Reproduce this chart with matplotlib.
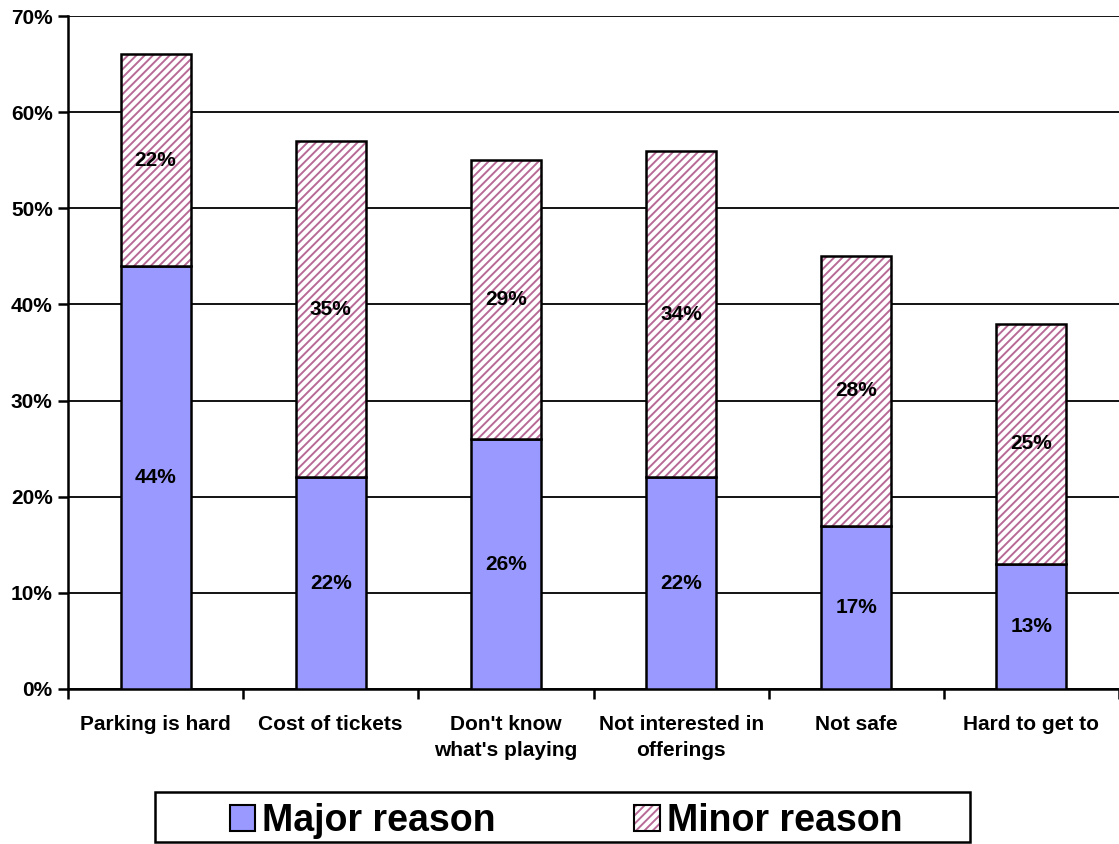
import matplotlib
matplotlib.use("Agg")
import matplotlib.pyplot as plt
from matplotlib.patches import Patch, Rectangle
from matplotlib.ticker import FuncFormatter, FixedLocator

plt.rcParams['font.family'] = ['Liberation Sans', 'DejaVu Sans']
plt.rcParams['font.weight'] = 'bold'
plt.rcParams['hatch.linewidth'] = 1.4

categories = ["Parking is hard", "Cost of tickets", "Don't know\nwhat's playing",
              "Not interested in\nofferings", "Not safe", "Hard to get to"]
major = [44, 22, 26, 22, 17, 13]
minor = [22, 35, 29, 34, 28, 25]

major_color = '#9999FF'
hatch_color = '#b86a96'

W, H = 1119, 844
fig = plt.figure(figsize=(W / 100, H / 100), dpi=100)
ax = fig.add_axes([68/W, 1 - 689/H, 1 - 68/W, (689 - 16)/H])

x = list(range(len(categories)))
w = 0.40

ax.bar(x, major, w, color=major_color, edgecolor='black', linewidth=1.8, zorder=3)
ax.bar(x, minor, w, bottom=major, color='white', edgecolor=hatch_color,
       hatch='////', linewidth=0, zorder=3)
ax.bar(x, minor, w, bottom=major, fill=False, edgecolor='black', linewidth=1.8, zorder=4)

for i in x:
    ax.text(i, major[i] / 2, f"{major[i]}%", ha='center', va='center',
            fontsize=15, fontweight='bold', zorder=5)
    ax.text(i, major[i] + minor[i] / 2, f"{minor[i]}%", ha='center', va='center',
            fontsize=15, fontweight='bold', zorder=5)

ax.set_xlim(-0.5, len(categories) - 0.5)
ax.set_ylim(0, 70)
ax.set_yticks(range(0, 71, 10))
ax.yaxis.set_major_formatter(FuncFormatter(lambda v, p: f"{int(v)}%"))
ax.grid(axis='y', color='black', linewidth=1.3, zorder=0)

ax.xaxis.set_major_locator(FixedLocator([i - 0.5 for i in range(len(categories) + 1)]))
ax.xaxis.set_major_formatter(FuncFormatter(lambda v, p: ""))
ax.set_xticks(x, categories, minor=True, fontweight='bold', va='top')
ax.tick_params(axis='x', which='minor', length=0, pad=19, labelsize=15)
ax.tick_params(axis='x', which='major', length=7, width=1.8, direction='out')
ax.tick_params(axis='y', length=7, width=1.8, direction='out', labelsize=15, pad=4)
for lab in ax.get_yticklabels():
    lab.set_fontweight('bold')

ax.spines['top'].set_visible(False)
ax.spines['right'].set_visible(False)
ax.spines['left'].set_linewidth(1.8)
ax.spines['bottom'].set_linewidth(1.8)

# legend box
fig.patches.append(Rectangle((155/W, 2/H), 815/W, 50/H, transform=fig.transFigure,
                             facecolor='white', edgecolor='black', linewidth=1.8,
                             zorder=1))

h_major = Patch(facecolor=major_color, edgecolor='black', linewidth=1.5)
h_minor = (Patch(facecolor='white', edgecolor=hatch_color, hatch='////', linewidth=0),
           Patch(fill=False, edgecolor='black', linewidth=1.5))
leg = fig.legend([h_major, h_minor], ["Major reason", "Minor reason"],
                 loc='center', bbox_to_anchor=(566/W, 1 - 821/H), ncol=2,
                 prop={'size': 27, 'weight': 'bold'}, frameon=False,
                 handlelength=0.67, handleheight=0.67,
                 handletextpad=0.19, columnspacing=3.7, borderpad=0.1,
                 borderaxespad=0)
leg.set_zorder(2)

fig.canvas.draw()
for t in ax.xaxis.get_minor_ticks():
    t.label1.set_linespacing(1.45)

fig.savefig("out.png", dpi=100)
